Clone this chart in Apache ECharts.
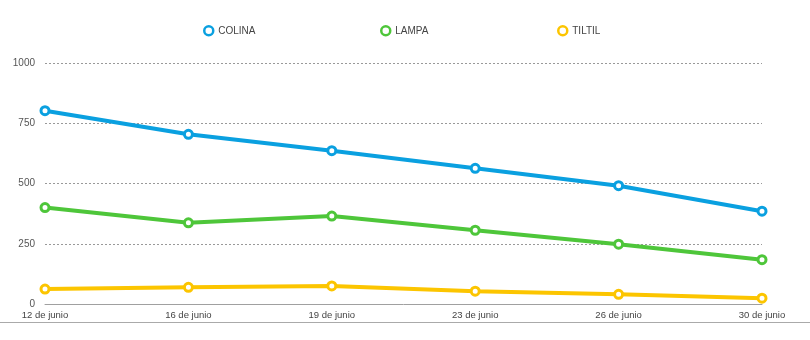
<!DOCTYPE html>
<html>
<head>
<meta charset="utf-8">
<script src="https://cdn.jsdelivr.net/npm/echarts@6/dist/echarts.min.js"></script>
<style>
html,body{margin:0;padding:0;background:#fff;}
#chart{width:810px;height:340px;}
</style>
</head>
<body>
<div id="chart"></div>
<script>
const categories = ['12 de junio', '16 de junio', '19 de junio', '23 de junio', '26 de junio', '30 de junio'];
const colina = [802, 704, 636, 563, 491, 385];
const lampa = [400, 337, 365, 306, 248, 184];
const tiltil = [62, 69, 75, 53, 40, 24];
const seriesNames = ['COLINA', 'LAMPA', 'TILTIL'];
const colors = ['#0aa0e0', '#4ec63a', '#fcc500'];
const legendLefts = [198, 375, 552];

const chart = echarts.init(document.getElementById('chart'));
const font = 'Helvetica, "Liberation Sans", Arial, sans-serif';

function mkSeries(name, data, color) {
  return {
    name: name,
    type: 'line',
    data: data,
    symbol: 'circle',
    symbolSize: 8,
    showSymbol: true,
    lineStyle: { width: 4, color: color },
    itemStyle: { color: '#ffffff', borderColor: color, borderWidth: 3 },
    emphasis: { disabled: true },
    animation: false
  };
}

chart.setOption({
  backgroundColor: '#ffffff',
  animation: false,
  color: colors,
  legend: seriesNames.map((n, i) => ({
    top: 20,
    left: legendLefts[i],
    itemWidth: 9,
    itemHeight: 9,
    itemGap: 6,
    icon: 'circle',
    textStyle: { fontFamily: font, fontSize: 10, color: '#444' },
    data: [{ name: n, itemStyle: { color: '#fff', borderColor: colors[i], borderWidth: 2.5 } }]
  })),
  grid: { left: 45, right: 48, top: 63, bottom: 36, containLabel: false },
  xAxis: {
    type: 'category',
    data: categories,
    boundaryGap: false,
    axisLine: { lineStyle: { color: '#a0a0a0', width: 1 } },
    axisTick: { show: false },
    axisLabel: { fontFamily: font, fontSize: 9.5, color: '#444', margin: 6, interval: 0 },
    splitLine: { show: false }
  },
  yAxis: {
    type: 'value',
    min: 0,
    max: 1000,
    interval: 250,
    axisLine: { show: false },
    axisTick: { show: false },
    axisLabel: { fontFamily: font, fontSize: 10, color: '#555', margin: 10, formatter: v => String(v) },
    splitLine: { lineStyle: { color: '#999', type: [2, 2], width: 1 } }
  },
  graphic: [{
    type: 'line',
    shape: { x1: 0, y1: 322.5, x2: 810, y2: 322.5 },
    style: { stroke: '#aaaaaa', lineWidth: 1 },
    silent: true
  }],
  series: [
    mkSeries('COLINA', colina, colors[0]),
    mkSeries('LAMPA', lampa, colors[1]),
    mkSeries('TILTIL', tiltil, colors[2])
  ]
});
</script>
</body>
</html>
